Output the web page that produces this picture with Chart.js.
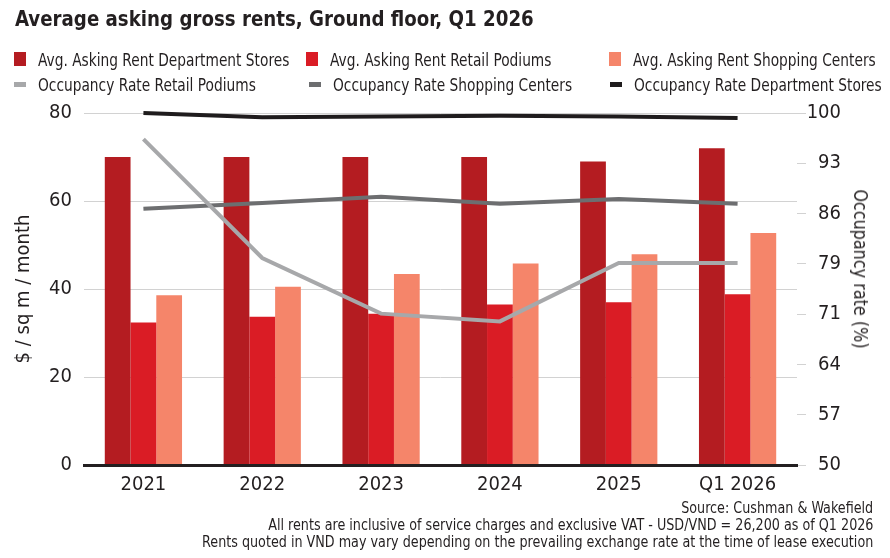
<!DOCTYPE html>
<html>
<head>
<meta charset="utf-8">
<title>Average asking gross rents, Ground floor, Q1 2026</title>
<script src="https://cdn.jsdelivr.net/npm/chart.js@4.4.1/dist/chart.umd.min.js"></script>
<style>
  body { margin: 0; background: #fff; color: #231f20;
         font-family: 'Liberation Sans Narrow', 'DejaVu Sans Condensed', sans-serif; }
  #wrap { position: relative; width: 890px; height: 558px; overflow: hidden; }
  #chart { position: absolute; left: 0; top: 0; }
  /* the reference uses a narrow face; squeeze the condensed one a bit more */
  .squeeze { display: inline-block; transform-origin: left center; }
  #title { position: absolute; left: 15px; top: 6px; font-size: 22px; font-weight: bold; white-space: nowrap; }
  #title .squeeze { transform: scaleX(0.92); }
  .legend-item { position: absolute; height: 20px; display: flex; align-items: center;
                 font-size: 18px; white-space: nowrap; }
  .legend-item .swatch { width: 12px; margin-right: 12px; flex: none; }
  .legend-item .squeeze { transform: scaleX(0.85); }
  #yRightTitle { position: absolute; left: 861px; top: 269px; font-size: 20px; white-space: nowrap;
                 transform: translate(-50%, -50%) rotate(90deg) scaleX(0.89); }
  #footer { position: absolute; right: 17px; top: 500px; text-align: right;
            font-size: 15px; line-height: 17px; white-space: nowrap; }
  #footer .squeeze { transform-origin: right center; transform: scaleX(0.945); }
</style>
</head>
<body>
<div id="wrap">
  <canvas id="chart" width="890" height="558"></canvas>
  <div id="title"><span class="squeeze">Average asking gross rents, Ground floor, Q1 2026</span></div>
  <div id="legend"></div>
  <div id="yRightTitle">Occupancy rate (%)</div>
  <div id="footer">
    <span class="squeeze">Source: Cushman &amp; Wakefield</span><br>
    <span class="squeeze">All rents are inclusive of service charges and exclusive VAT - USD/VND = 26,200 as of Q1 2026</span><br>
    <span class="squeeze">Rents quoted in VND may vary depending on the prevailing exchange rate at the time of lease execution</span>
  </div>
</div>
<script>
  // Data
  const categories = ['2021', '2022', '2023', '2024', '2025', 'Q1 2026'];

  const rentDeptStores = [70, 70, 70, 70, 69, 72];
  const rentRetailPodiums = [32.4, 33.7, 34.4, 36.5, 37.0, 38.8];
  const rentShoppingCenters = [38.6, 40.5, 43.4, 45.8, 47.9, 52.7];

  const occRetailPodiums = [96.3, 79.4, 71.5, 70.4, 78.7, 78.7];
  const occShoppingCenters = [86.4, 87.2, 88.1, 87.1, 87.8, 87.1];
  const occDeptStores = [100, 99.4, 99.5, 99.6, 99.5, 99.3];

  const rentTickStep = 20;
  const occTickLabels = ['50', '57', '64', '71', '79', '86', '93', '100'];

  const fontFamily = "'Liberation Sans Narrow', 'DejaVu Sans Condensed', sans-serif";
  const textColor = '#231f20';
  const gridColor = '#d2d2d2';

  Chart.defaults.font.family = fontFamily;
  Chart.defaults.color = textColor;

  // lines first so they are drawn on top of the bars
  const datasets = [
    {
      type: 'line', label: 'Occupancy Rate Retail Podiums', data: occRetailPodiums,
      yAxisID: 'y1', borderColor: '#a7a8aa', backgroundColor: '#a7a8aa',
      borderWidth: 4, pointRadius: 0, tension: 0, clip: false, order: 0,
    },
    {
      type: 'line', label: 'Occupancy Rate Shopping Centers', data: occShoppingCenters,
      yAxisID: 'y1', borderColor: '#6d6e70', backgroundColor: '#6d6e70',
      borderWidth: 4, pointRadius: 0, tension: 0, clip: false, order: 0,
    },
    {
      type: 'line', label: 'Occupancy Rate Department Stores', data: occDeptStores,
      yAxisID: 'y1', borderColor: '#1f1c1d', backgroundColor: '#1f1c1d',
      borderWidth: 4, pointRadius: 0, tension: 0, clip: false, order: 0,
    },
    {
      label: 'Avg. Asking Rent Department Stores', data: rentDeptStores,
      yAxisID: 'y', backgroundColor: '#b41c21', order: 1,
    },
    {
      label: 'Avg. Asking Rent Retail Podiums', data: rentRetailPodiums,
      yAxisID: 'y', backgroundColor: '#da1c25', order: 1,
    },
    {
      label: 'Avg. Asking Rent Shopping Centers', data: rentShoppingCenters,
      yAxisID: 'y', backgroundColor: '#f5856a', order: 1,
    },
  ];

  const config = {
    type: 'bar',
    data: { labels: categories, datasets: datasets },
    options: {
      responsive: false,
      animation: false,
      categoryPercentage: 0.65,
      barPercentage: 1,
      layout: { padding: { top: 113, left: 0, right: 49, bottom: 0 } },
      plugins: { legend: { display: false }, tooltip: { enabled: false } },
      scales: {
        x: {
          grid: { display: false, drawTicks: false },
          border: { display: true, color: '#231f20', width: 3, z: 1 },
          ticks: { font: { size: 20 }, padding: 8, color: textColor },
          afterFit: (scale) => { scale.height = 93; },
        },
        y: {
          position: 'left',
          min: 0, max: 80,
          ticks: { stepSize: rentTickStep, font: { size: 20 }, padding: 12, color: textColor },
          grid: { color: gridColor, lineWidth: 1, drawTicks: false },
          border: { display: false },
          title: { display: true, text: '$ / sq m / month', font: { size: 20 },
                   padding: { top: 12, bottom: 0 }, color: textColor },
          afterFit: (scale) => { scale.width = 84; },
        },
        y1: {
          position: 'right',
          min: 50, max: 100,
          afterBuildTicks: (scale) => {
            scale.ticks = occTickLabels.map((l, i) => ({ value: 50 + i * 50 / (occTickLabels.length - 1) }));
          },
          ticks: {
            font: { size: 20 }, padding: 3, crossAlign: 'far', color: textColor,
            callback: (value, index) => occTickLabels[index],
          },
          grid: { drawOnChartArea: false, drawTicks: true, tickLength: 9, color: gridColor },
          border: { display: false },
          afterFit: (scale) => { scale.width = 44; },
        },
      },
    },
  };

  const chart = new Chart(document.getElementById('chart'), config);

  // HTML legend, three columns like the reference
  const legendSpots = [
    { label: 'Avg. Asking Rent Department Stores', left: 14, top: 49 },
    { label: 'Avg. Asking Rent Retail Podiums', left: 306, top: 49 },
    { label: 'Avg. Asking Rent Shopping Centers', left: 609, top: 49 },
    { label: 'Occupancy Rate Retail Podiums', left: 14, top: 74 },
    { label: 'Occupancy Rate Shopping Centers', left: 309, top: 74 },
    { label: 'Occupancy Rate Department Stores', left: 610, top: 74 },
  ];

  const legendBox = document.getElementById('legend');
  legendSpots.forEach(function (spot) {
    const ds = datasets.find((d) => d.label === spot.label);
    const item = document.createElement('div');
    item.className = 'legend-item';
    item.style.left = spot.left + 'px';
    item.style.top = spot.top + 'px';

    const swatch = document.createElement('span');
    swatch.className = 'swatch';
    swatch.style.height = ds.type === 'line' ? '5px' : '14px';
    swatch.style.background = ds.type === 'line' ? ds.borderColor : ds.backgroundColor;

    const text = document.createElement('span');
    text.className = 'squeeze';
    text.textContent = ds.label;

    item.appendChild(swatch);
    item.appendChild(text);
    legendBox.appendChild(item);
  });
</script>
</body>
</html>
